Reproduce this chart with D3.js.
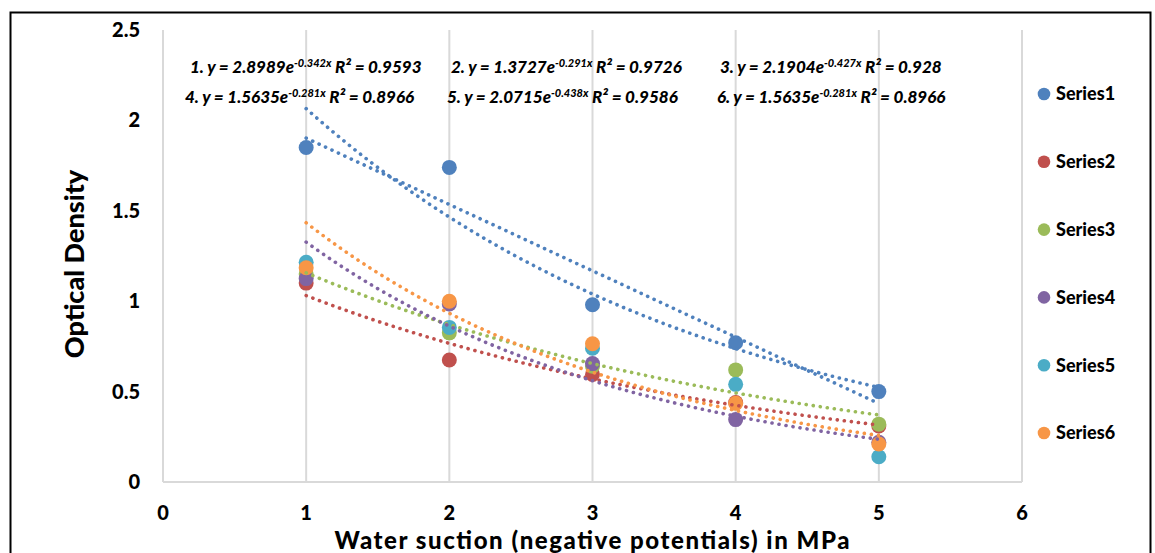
<!DOCTYPE html>
<html>
<head>
<meta charset="utf-8">
<script src="https://cdn.jsdelivr.net/npm/d3@7"></script>
<style>
  body { margin: 0; background: #fff; }
  svg { font-family: Lato, "Open Sans", sans-serif; }
  .tick-lbl { font-weight: 900; font-size: 20px; fill: #000; }
  .eq { font-weight: 900; font-style: italic; font-size: 17px; fill: #000; }
</style>
</head>
<body>
<svg width="1155" height="553"></svg>
<script>
var svg = d3.select("svg"),
    margin = {top: 30, left: 163, right: 133, bottom: 71},
    width = 1155 - margin.left - margin.right,
    height = 553 - margin.top - margin.bottom;

var xVals = [1, 2, 3, 4, 5];
var seriesNames = ["Series1", "Series2", "Series3", "Series4", "Series5", "Series6"];
var series1 = [1.85, 1.74, 0.98, 0.77, 0.50];
var series2 = [1.10, 0.675, 0.595, 0.44, 0.31];
var series3 = [1.15, 0.825, 0.64, 0.62, 0.32];
var series4 = [1.125, 0.985, 0.655, 0.345, 0.22];
var series5 = [1.215, 0.855, 0.74, 0.54, 0.14];
var series6 = [1.185, 1.0, 0.765, 0.435, 0.21];
var colors = ["#4F81BD", "#C0504D", "#9BBB59", "#8064A2", "#4BACC6", "#F79646"];
// trendline types per series (Series5 has none)
var trends = [["exp", "linear"], ["exp"], ["exp"], ["exp"], [], ["exp"]];
var xTicks = [0, 1, 2, 3, 4, 5, 6];
var yTicks = [0, 0.5, 1, 1.5, 2, 2.5];

// equation labels: [prefix, base, exponent, r2]
var eqRow1 = [["1. y = ", "2.8989e", "-0.342x", " R² = 0.9593"],
              ["2. y = ", "1.3727e", "-0.291x", " R² = 0.9726"],
              ["3. y = ", "2.1904e", "-0.427x", " R² = 0.928"]];
var eqRow2 = [["4. y = ", "1.5635e", "-0.281x", " R² = 0.8966"],
              ["5. y = ", "2.0715e", "-0.438x", " R² = 0.9586"],
              ["6. y = ", "1.5635e", "-0.281x", " R² = 0.8966"]];

var allSeries = [series1, series2, series3, series4, series5, series6];

var x = d3.scaleLinear().domain([0, 6]).range([0, width]),
    y = d3.scaleLinear().domain([0, 2.5]).range([height, 0]);

// outer frame
svg.append("rect")
    .attr("x", 10.5).attr("y", 12.5)
    .attr("width", 1140).attr("height", 600)
    .attr("fill", "none").attr("stroke", "#000").attr("stroke-width", 2);

var g = svg.append("g").attr("transform", "translate(" + margin.left + "," + margin.top + ")");

// vertical gridlines
g.selectAll(".grid")
  .data(xTicks)
  .enter().append("line")
    .attr("x1", function(d) { return x(d); })
    .attr("x2", function(d) { return x(d); })
    .attr("y1", 0).attr("y2", height)
    .attr("stroke", "#d9d9d9").attr("stroke-width", 2);

g.append("line")
    .attr("x1", 0).attr("x2", width)
    .attr("y1", height).attr("y2", height)
    .attr("stroke", "#d9d9d9").attr("stroke-width", 2);

// tick labels
g.selectAll(".xl")
  .data(xTicks)
  .enter().append("text")
    .attr("class", "tick-lbl")
    .attr("x", function(d) { return x(d); })
    .attr("y", height + 31)
    .attr("dy", "0.35em")
    .attr("text-anchor", "middle")
    .text(function(d) { return d; });

g.selectAll(".yl")
  .data(yTicks)
  .enter().append("text")
    .attr("class", "tick-lbl")
    .attr("x", -23)
    .attr("y", function(d) { return y(d); })
    .attr("dy", "0.35em")
    .attr("text-anchor", "end")
    .text(function(d) { return d; });

// axis titles
svg.append("text")
    .attr("x", 592).attr("y", 541)
    .attr("dy", "0.35em")
    .attr("text-anchor", "middle")
    .attr("textLength", 515)
    .attr("lengthAdjust", "spacing")
    .style("font-weight", "900").style("font-size", "24px")
    .text("Water suction (negative potentials) in MPa");

svg.append("text")
    .attr("transform", "translate(75,264) rotate(-90)")
    .attr("dy", "0.35em")
    .attr("text-anchor", "middle")
    .style("font-weight", "900").style("font-size", "27px")
    .text("Optical Density");

// markers
allSeries.forEach(function(vals, i) {
  g.selectAll(".pt" + i)
    .data(vals)
    .enter().append("circle")
      .attr("cx", function(d, j) { return x(xVals[j]); })
      .attr("cy", function(d) { return y(d); })
      .attr("r", 7.5)
      .attr("fill", colors[i]);
});

// trendlines fitted from the data (least squares, like Excel)
function fitExp(vals) {
  var n = vals.length, mx = d3.mean(xVals),
      ly = vals.map(Math.log), my = d3.mean(ly),
      sxy = 0, sxx = 0;
  for (var k = 0; k < n; ++k) { sxy += (xVals[k] - mx) * (ly[k] - my); sxx += (xVals[k] - mx) * (xVals[k] - mx); }
  var b = sxy / sxx, a = Math.exp(my - b * mx);
  return function(t) { return a * Math.exp(b * t); };
}
function fitLin(vals) {
  var mx = d3.mean(xVals), my = d3.mean(vals), sxy = 0, sxx = 0;
  for (var k = 0; k < vals.length; ++k) { sxy += (xVals[k] - mx) * (vals[k] - my); sxx += (xVals[k] - mx) * (xVals[k] - mx); }
  var b = sxy / sxx, a = my - b * mx;
  return function(t) { return a + b * t; };
}

var line = d3.line()
    .x(function(d) { return x(d[0]); })
    .y(function(d) { return y(d[1]); });

var steps = d3.range(xVals[0], xVals[xVals.length - 1] + 0.001, 0.05);

allSeries.forEach(function(vals, i) {
  trends[i].forEach(function(kind) {
    var f = kind == "exp" ? fitExp(vals) : fitLin(vals);
    g.append("path")
      .attr("d", line(steps.map(function(t) { return [t, f(t)]; })))
      .attr("fill", "none")
      .attr("stroke", colors[i])
      .attr("stroke-width", 3.6)
      .attr("stroke-linecap", "round")
      .attr("stroke-dasharray", "0.1 7");
  });
});

// equation labels
function addEq(row, xs, yy) {
  row.forEach(function(e, i) {
    var t = svg.append("text").attr("class", "eq").attr("x", xs[i]).attr("y", yy);
    t.append("tspan").text(e[0] + e[1]);
    t.append("tspan").attr("dy", -6).style("font-size", "11px").text(e[2]);
    t.append("tspan").attr("dy", 6).text(e[3]);
  });
}
addEq(eqRow1, [190, 451, 720], 73);
addEq(eqRow2, [185, 447, 717], 103);

// legend
var legend = svg.selectAll(".legend")
  .data(seriesNames)
  .enter().append("g")
    .attr("transform", function(d, i) { return "translate(1044," + (94 + i * 67.8) + ")"; });

legend.append("circle")
    .attr("r", 6.3)
    .attr("fill", function(d, i) { return colors[i]; });

legend.append("text")
    .attr("x", 12)
    .attr("dy", "0.35em")
    .style("font-weight", "900").style("font-size", "18px")
    .text(function(d) { return d; });
</script>
</body>
</html>
